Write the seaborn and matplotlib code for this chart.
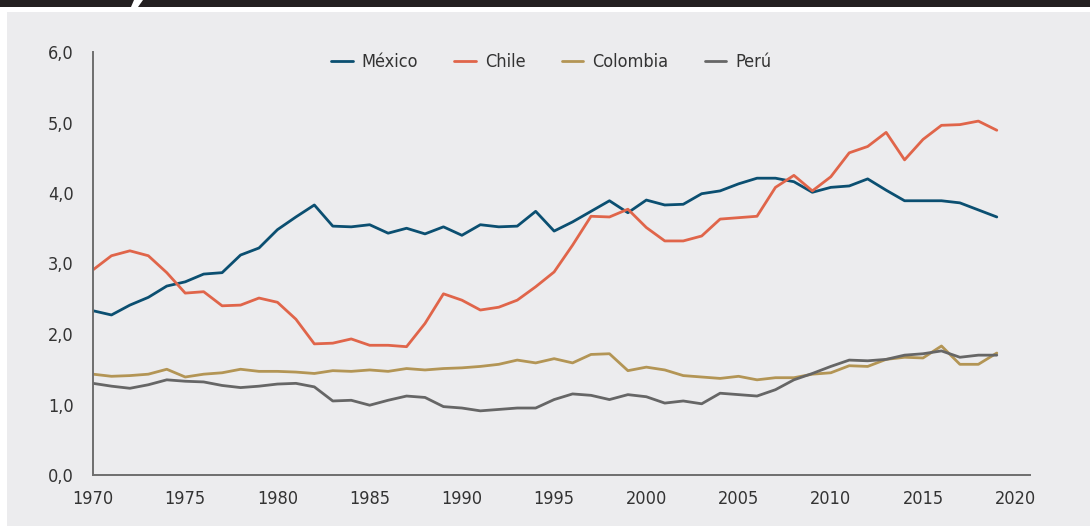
import seaborn as sns
import matplotlib.pyplot as plt
import pandas as pd
from matplotlib.patches import Rectangle, Polygon
from matplotlib.ticker import FuncFormatter

years = list(range(1970, 2020))

mexico = [2.33, 2.27, 2.41, 2.52, 2.68, 2.74, 2.85, 2.87, 3.12, 3.22,
          3.48, 3.66, 3.83, 3.53, 3.52, 3.55, 3.43, 3.50, 3.42, 3.52,
          3.40, 3.55, 3.52, 3.53, 3.74, 3.46, 3.59, 3.74, 3.89, 3.72,
          3.90, 3.83, 3.84, 3.99, 4.03, 4.13, 4.21, 4.21, 4.16, 4.01,
          4.08, 4.10, 4.20, 4.04, 3.89, 3.89, 3.89, 3.86, 3.76, 3.66]

chile = [2.91, 3.11, 3.18, 3.11, 2.87, 2.58, 2.60, 2.40, 2.41, 2.51,
         2.45, 2.21, 1.86, 1.87, 1.93, 1.84, 1.84, 1.82, 2.15, 2.57,
         2.48, 2.34, 2.38, 2.48, 2.67, 2.88, 3.26, 3.67, 3.66, 3.77,
         3.51, 3.32, 3.32, 3.39, 3.63, 3.65, 3.67, 4.08, 4.25, 4.03,
         4.23, 4.57, 4.66, 4.86, 4.47, 4.76, 4.96, 4.97, 5.02, 4.89]

colombia = [1.43, 1.40, 1.41, 1.43, 1.50, 1.39, 1.43, 1.45, 1.50, 1.47,
            1.47, 1.46, 1.44, 1.48, 1.47, 1.49, 1.47, 1.51, 1.49, 1.51,
            1.52, 1.54, 1.57, 1.63, 1.59, 1.65, 1.59, 1.71, 1.72, 1.48,
            1.53, 1.49, 1.41, 1.39, 1.37, 1.40, 1.35, 1.38, 1.38, 1.43,
            1.45, 1.55, 1.54, 1.64, 1.67, 1.66, 1.83, 1.57, 1.57, 1.73]

peru = [1.30, 1.26, 1.23, 1.28, 1.35, 1.33, 1.32, 1.27, 1.24, 1.26,
        1.29, 1.30, 1.25, 1.05, 1.06, 0.99, 1.06, 1.12, 1.10, 0.97,
        0.95, 0.91, 0.93, 0.95, 0.95, 1.07, 1.15, 1.13, 1.07, 1.14,
        1.11, 1.02, 1.05, 1.01, 1.16, 1.14, 1.12, 1.21, 1.35, 1.44,
        1.54, 1.63, 1.62, 1.64, 1.70, 1.72, 1.76, 1.67, 1.70, 1.70]

countries = ["México", "Chile", "Colombia", "Perú"]
colors = ["#0b4f71", "#e0654a", "#b39555", "#666666"]

df = pd.DataFrame({
    "year": years * 4,
    "value": mexico + chile + colombia + peru,
    "country": [c for c in countries for _ in years],
})

sns.set_style("white")
plt.rcParams["font.family"] = ["DejaVu Sans"]
plt.rcParams["font.stretch"] = "condensed"
text_color = "#333333"
bg = "#ececee"

fig = plt.figure(figsize=(10.9, 5.26), dpi=100)
fig.patch.set_facecolor("white")
# grey panel and dark header strip
fig.patches.append(Rectangle((7 / 1090, 0), 1, 1 - 12 / 526, transform=fig.transFigure,
                             facecolor=bg, edgecolor="none", zorder=-5))
fig.patches.append(Polygon([(0, 1), (134 / 1090, 1), (131 / 1090, 1 - 7 / 526), (0, 1 - 7 / 526)],
                           closed=True, transform=fig.transFigure,
                           facecolor="#231f20", edgecolor="none", zorder=1))
fig.patches.append(Polygon([(143 / 1090, 1), (1, 1), (1, 1 - 7 / 526), (138 / 1090, 1 - 7 / 526)],
                           closed=True, transform=fig.transFigure,
                           facecolor="#231f20", edgecolor="none", zorder=1))

ax = fig.add_axes([93 / 1090, 51 / 526, (1030 - 93) / 1090, (475 - 52) / 526])
ax.set_facecolor(bg)

sns.lineplot(data=df, x="year", y="value", hue="country", hue_order=countries,
             palette=dict(zip(countries, colors)), linewidth=2.0, ax=ax)

ax.set_xlim(1970, 2020.8)
ax.set_ylim(0, 6)
ax.set_xticks(range(1970, 2021, 5))
ax.set_yticks(range(0, 7))
ax.yaxis.set_major_formatter(FuncFormatter(lambda v, p: f"{v:.1f}".replace(".", ",")))
ax.set_xlabel("")
ax.set_ylabel("")

for s in ["top", "right"]:
    ax.spines[s].set_visible(False)
for s in ["left", "bottom"]:
    ax.spines[s].set_color("#6e6e6e")
    ax.spines[s].set_linewidth(1.4)
ax.tick_params(axis="both", colors="#6e6e6e", labelcolor=text_color,
               labelsize=13, length=5, width=1.2, direction="out")
ax.tick_params(axis="y", pad=9)
ax.tick_params(axis="x", pad=6)

leg = ax.legend(loc="upper center", bbox_to_anchor=(0.489, 1.035), ncol=4, frameon=False,
                fontsize=13, handlelength=1.2, columnspacing=2.0, handletextpad=0.5)
for t in leg.get_texts():
    t.set_color(text_color)

plt.savefig("out.png", dpi=100, facecolor=fig.get_facecolor())
